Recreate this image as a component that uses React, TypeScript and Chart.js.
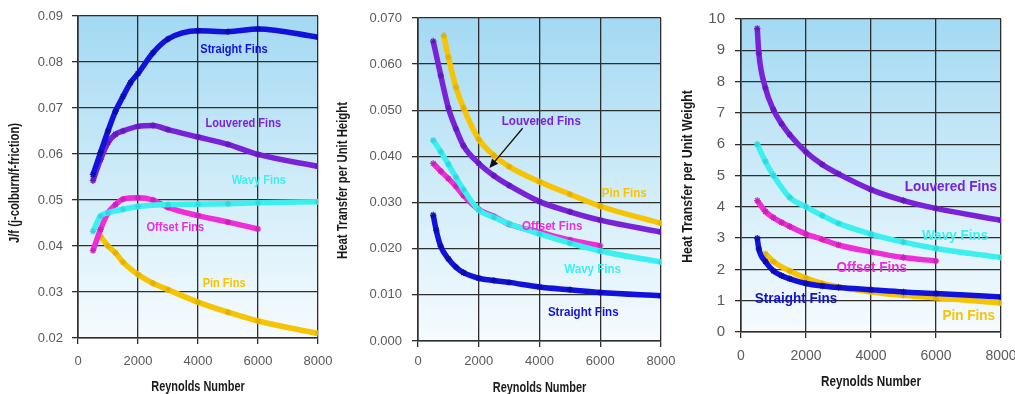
import React, { useEffect, useRef } from 'react';
import { Chart, registerables } from 'chart.js';

Chart.register(...registerables);

// ---- j/f ratio vs Reynolds number ----
const jfStraightRe = [500, 750, 1000, 1250, 1500, 1750, 2000, 2500, 3000, 4000, 5000, 6000, 8000];
const jfStraight = [0.0555, 0.0603, 0.065, 0.0693, 0.0725, 0.0755, 0.0775, 0.082, 0.085, 0.0868, 0.0866, 0.0872, 0.0854];
const jfLouveredRe = [500, 750, 1000, 1250, 1500, 2000, 2500, 3000, 4000, 5000, 6000, 8000];
const jfLouvered = [0.0542, 0.0588, 0.0625, 0.0643, 0.065, 0.066, 0.0662, 0.0653, 0.0637, 0.0621, 0.0599, 0.0573];
const jfWavyRe = [500, 750, 1000, 1500, 2000, 3000, 4000, 5000, 6000, 8000];
const jfWavy = [0.0432, 0.0465, 0.0472, 0.048, 0.0486, 0.049, 0.0491, 0.0492, 0.0494, 0.0496];
const jfOffsetRe = [500, 750, 1000, 1250, 1500, 2000, 2500, 3000, 4000, 5000, 6000];
const jfOffset = [0.039, 0.0436, 0.0472, 0.049, 0.0502, 0.0505, 0.05, 0.0484, 0.0466, 0.0452, 0.0437];
const jfPinRe = [750, 1000, 1250, 1500, 2000, 2500, 3000, 4000, 5000, 6000, 8000];
const jfPin = [0.0421, 0.04, 0.0385, 0.0365, 0.0338, 0.0319, 0.0305, 0.0278, 0.0256, 0.0237, 0.021];

// ---- heat transfer per unit height ----
const htStraightRe = [500, 600, 750, 1000, 1250, 1500, 2000, 2500, 3000, 4000, 5000, 6000, 8000];
const htStraight = [0.0273, 0.024, 0.0205, 0.0178, 0.016, 0.0148, 0.0136, 0.0131, 0.0127, 0.0117, 0.0111, 0.0105, 0.0098];
const htLouveredRe = [500, 750, 1000, 1250, 1500, 2000, 2500, 3000, 4000, 5000, 6000, 8000];
const htLouvered = [0.065, 0.0575, 0.0505, 0.046, 0.0423, 0.0385, 0.0358, 0.0337, 0.0302, 0.028, 0.0262, 0.0236];
const htWavyRe = [500, 750, 1000, 1250, 1500, 2000, 2500, 3000, 4000, 5000, 6000, 8000];
const htWavy = [0.0435, 0.041, 0.0383, 0.0355, 0.0328, 0.0284, 0.0268, 0.0254, 0.0232, 0.0212, 0.0195, 0.0171];
const htOffsetRe = [500, 750, 1000, 1250, 1500, 2000, 2500, 3000, 4000, 5000, 6000];
const htOffset = [0.0385, 0.0368, 0.0352, 0.0335, 0.0315, 0.0285, 0.027, 0.0253, 0.0236, 0.0219, 0.0206];
const htPinRe = [850, 1000, 1250, 1500, 2000, 2500, 3000, 4000, 5000, 6000, 8000];
const htPin = [0.0662, 0.0615, 0.055, 0.0505, 0.0437, 0.0402, 0.0378, 0.0345, 0.0318, 0.0292, 0.0255];

// ---- heat transfer per unit weight ----
const hwStraightRe = [500, 550, 750, 1000, 1250, 1500, 2000, 2500, 3000, 4000, 5000, 6000, 8000];
const hwStraight = [3.0, 2.65, 2.25, 1.95, 1.8, 1.7, 1.55, 1.47, 1.42, 1.35, 1.28, 1.23, 1.12];
const hwLouveredRe = [500, 550, 750, 1000, 1250, 1500, 2000, 2500, 3000, 4000, 5000, 6000, 8000];
const hwLouvered = [9.7, 8.9, 7.8, 7.1, 6.65, 6.3, 5.75, 5.35, 5.05, 4.55, 4.2, 3.95, 3.57];
const hwWavyRe = [500, 750, 1000, 1500, 2000, 2500, 3000, 4000, 5000, 6000, 8000];
const hwWavy = [6.0, 5.45, 5.0, 4.3, 4.0, 3.72, 3.47, 3.13, 2.87, 2.67, 2.38];
const hwOffsetRe = [500, 750, 1000, 1250, 1500, 2000, 2500, 3000, 4000, 5000, 6000];
const hwOffset = [4.2, 3.85, 3.65, 3.5, 3.37, 3.13, 2.96, 2.78, 2.56, 2.38, 2.27];
const hwPinRe = [750, 1000, 1500, 2000, 2500, 3000, 4000, 5000, 6000, 8000];
const hwPin = [2.5, 2.25, 1.95, 1.72, 1.55, 1.44, 1.28, 1.17, 1.09, 0.93];

const finNames = ['Straight Fins', 'Louvered Fins', 'Wavy Fins', 'Offset Fins', 'Pin Fins'];
const xAxisTitle = 'Reynolds Number';
const yAxisTitles = ['J/f (j-colburn/f-friction)', 'Heat Transfer per Unit Height', 'Heat Transfer per Unit Weight'];
const reynoldsMax = 8000;
const reynoldsStep = 2000;

const COLORS: Record<string, string> = {
  'Straight Fins': '#1212dc',
  'Louvered Fins': '#7a22d8',
  'Wavy Fins': '#3cf0f0',
  'Offset Fins': '#ee2ed6',
  'Pin Fins': '#f6c400',
};
const MARKERS: Record<string, string> = {
  'Straight Fins': '#0c0ca8',
  'Louvered Fins': '#6418b8',
  'Wavy Fins': '#2fd6e0',
  'Offset Fins': '#c820b8',
  'Pin Fins': '#e2b000',
};

const SANS = "'Liberation Sans', Arial, sans-serif";
const GRID = '#2e2e2e';
const TICK_TEXT = '#5a5a5a';
const TITLE_TEXT = '#1a1a1a';

type Label = { text: string; x: number; y: number; size: number };
type Arrow = { x1: number; y1: number; x2: number; y2: number };

type PanelSpec = {
  left: number;
  width: number;
  yWidth: number;
  padRight: number;
  padTop: number;
  xHeight: number;
  yMin: number;
  yMax: number;
  yStep: number;
  yDecimals: number;
  yTickSize: number;
  xTickSize: number;
  yTickPad: number;
  xTickPad: number;
  yTitle: string;
  titleSize: number;
  xTitleStretch: number;
  yTitleStretch: number;
  yTitleX: number;
  yTitleShift: number;
  xTitleY: number;
  labelStretch: number;
  series: [string, number[], number[]][];
  labels: Label[];
  arrows: Arrow[];
};

// Bold text squeezed horizontally, as a condensed face
function narrowText(ctx: CanvasRenderingContext2D, text: string, x: number, y: number, size: number, stretch: number, color: string, rotate = 0) {
  ctx.save();
  ctx.translate(x, y);
  if (rotate) ctx.rotate(rotate);
  ctx.scale(stretch, 1);
  ctx.font = `bold ${size}px ${SANS}`;
  ctx.fillStyle = color;
  ctx.textAlign = 'center';
  ctx.textBaseline = 'middle';
  ctx.fillText(text, 0, 0);
  ctx.restore();
}

// Plot-area gradient, axis titles, in-chart series captions and pointer arrows
const panelDecor = {
  id: 'panelDecor',
  beforeDraw(chart: any) {
    const { ctx, chartArea: a } = chart;
    const g = ctx.createLinearGradient(0, a.top, 0, a.bottom);
    g.addColorStop(0, '#a3d9f3');
    g.addColorStop(0.55, '#d2edf9');
    g.addColorStop(1, '#f6fbfe');
    ctx.save();
    ctx.fillStyle = g;
    ctx.fillRect(a.left, a.top, a.right - a.left, a.bottom - a.top);
    ctx.restore();
  },
  afterDatasetsDraw(chart: any, _args: any, opts: any) {
    const { ctx, scales, chartArea: a } = chart;
    const xs = scales.x;
    const ys = scales.y;
    const spec: PanelSpec = opts.spec;

    narrowText(ctx, xAxisTitle, (a.left + a.right) / 2, spec.xTitleY, spec.titleSize, spec.xTitleStretch, TITLE_TEXT);
    narrowText(ctx, spec.yTitle, spec.yTitleX, (a.top + a.bottom) / 2 + spec.yTitleShift, spec.titleSize, spec.yTitleStretch, TITLE_TEXT, -Math.PI / 2);

    ctx.save();
    spec.arrows.forEach((ar) => {
      const x1 = xs.getPixelForValue(ar.x1);
      const y1 = ys.getPixelForValue(ar.y1);
      const x2 = xs.getPixelForValue(ar.x2);
      const y2 = ys.getPixelForValue(ar.y2);
      const ang = Math.atan2(y2 - y1, x2 - x1);
      ctx.strokeStyle = '#111';
      ctx.fillStyle = '#111';
      ctx.lineWidth = 1.3;
      ctx.beginPath();
      ctx.moveTo(x1, y1);
      ctx.lineTo(x2 - 6 * Math.cos(ang), y2 - 6 * Math.sin(ang));
      ctx.stroke();
      ctx.beginPath();
      ctx.moveTo(x2, y2);
      ctx.lineTo(x2 - 9 * Math.cos(ang) + 4 * Math.sin(ang), y2 - 9 * Math.sin(ang) - 4 * Math.cos(ang));
      ctx.lineTo(x2 - 9 * Math.cos(ang) - 4 * Math.sin(ang), y2 - 9 * Math.sin(ang) + 4 * Math.cos(ang));
      ctx.closePath();
      ctx.fill();
    });
    ctx.restore();

    spec.labels.forEach((l) => {
      narrowText(ctx, l.text, xs.getPixelForValue(l.x), ys.getPixelForValue(l.y), l.size, spec.labelStretch, COLORS[l.text]);
    });
  },
};

const panels: PanelSpec[] = [
  {
    left: 0, width: 345, yWidth: 78, padRight: 27, padTop: 16, xHeight: 56,
    yMin: 0.02, yMax: 0.09, yStep: 0.01, yDecimals: 2, yTickSize: 13, xTickSize: 13,
    yTickPad: 9, xTickPad: 10,
    yTitle: yAxisTitles[0], titleSize: 14, xTitleStretch: 0.78, yTitleStretch: 0.8,
    yTitleX: 15, yTitleShift: 6, xTitleY: 387,
    labelStretch: 0.92,
    series: [
      [finNames[0], jfStraightRe, jfStraight],
      [finNames[1], jfLouveredRe, jfLouvered],
      [finNames[2], jfWavyRe, jfWavy],
      [finNames[3], jfOffsetRe, jfOffset],
      [finNames[4], jfPinRe, jfPin],
    ],
    labels: [
      { text: finNames[0], x: 5200, y: 0.0826, size: 12 },
      { text: finNames[1], x: 5510, y: 0.0666, size: 12 },
      { text: finNames[2], x: 6030, y: 0.0542, size: 12 },
      { text: finNames[3], x: 3245, y: 0.044, size: 12 },
      { text: finNames[4], x: 4870, y: 0.0318, size: 12 },
    ],
    arrows: [],
  },
  {
    left: 330, width: 360, yWidth: 88, padRight: 29, padTop: 18, xHeight: 53,
    yMin: 0, yMax: 0.07, yStep: 0.01, yDecimals: 3, yTickSize: 13, xTickSize: 13,
    yTickPad: 10, xTickPad: 7,
    yTitle: yAxisTitles[1], titleSize: 14, xTitleStretch: 0.78, yTitleStretch: 0.81,
    yTitleX: 13.3, yTitleShift: 1, xTitleY: 388,
    labelStretch: 0.89,
    series: [
      [finNames[4], htPinRe, htPin],
      [finNames[1], htLouveredRe, htLouvered],
      [finNames[2], htWavyRe, htWavy],
      [finNames[3], htOffsetRe, htOffset],
      [finNames[0], htStraightRe, htStraight],
    ],
    labels: [
      { text: finNames[1], x: 4060, y: 0.0476, size: 13 },
      { text: finNames[4], x: 6790, y: 0.0319, size: 13 },
      { text: finNames[3], x: 4420, y: 0.0248, size: 13 },
      { text: finNames[2], x: 5750, y: 0.0156, size: 13 },
      { text: finNames[0], x: 5440, y: 0.0061, size: 13 },
    ],
    arrows: [{ x1: 3444, y1: 0.0461, x2: 2349, y2: 0.0375 }],
  },
  {
    left: 675, width: 340, yWidth: 66, padRight: 14, padTop: 19, xHeight: 62,
    yMin: 0, yMax: 10, yStep: 1, yDecimals: 0, yTickSize: 15, xTickSize: 14,
    yTickPad: 10, xTickPad: 10,
    yTitle: yAxisTitles[2], titleSize: 15, xTitleStretch: 0.78, yTitleStretch: 0.82,
    yTitleX: 13.3, yTitleShift: 1, xTitleY: 381.7,
    labelStretch: 0.9,
    series: [
      [finNames[1], hwLouveredRe, hwLouvered],
      [finNames[2], hwWavyRe, hwWavy],
      [finNames[3], hwOffsetRe, hwOffset],
      [finNames[0], hwStraightRe, hwStraight],
      [finNames[4], hwPinRe, hwPin],
    ],
    labels: [
      { text: finNames[1], x: 6460, y: 4.64, size: 15 },
      { text: finNames[2], x: 6585, y: 3.06, size: 15 },
      { text: finNames[3], x: 4020, y: 2.05, size: 15 },
      { text: finNames[0], x: 1690, y: 1.05, size: 15 },
      { text: finNames[4], x: 7010, y: 0.53, size: 15 },
    ],
    arrows: [],
  },
];

function Panel({ spec }: { spec: PanelSpec }) {
  const ref = useRef<HTMLCanvasElement>(null);

  useEffect(() => {
    if (!ref.current) return;
    const datasets = spec.series.map(([name, re, vals]) => ({
      label: name,
      data: re.map((x, i) => ({ x, y: vals[i] })),
      borderColor: COLORS[name],
      backgroundColor: MARKERS[name],
      borderWidth: 5.5,
      cubicInterpolationMode: 'monotone' as const,
      pointStyle: 'star' as const,
      pointRadius: 3.2,
      pointBorderWidth: 1.2,
      pointBorderColor: MARKERS[name],
      fill: false,
    }));

    const gridOpts = { color: GRID, lineWidth: 1.3, tickLength: 6, tickColor: GRID, tickWidth: 1.3 };

    const chart = new Chart(ref.current, {
      type: 'line',
      data: { datasets },
      options: {
        responsive: false,
        animation: false,
        devicePixelRatio: 1,
        layout: { padding: { left: 0, right: spec.padRight, top: spec.padTop, bottom: 0 } },
        plugins: {
          legend: { display: false },
          tooltip: { enabled: false },
          panelDecor: { spec },
        } as any,
        scales: {
          x: {
            type: 'linear',
            min: 0,
            max: reynoldsMax,
            afterFit: (s: any) => {
              s.height = spec.xHeight;
              s.paddingLeft = 0;
              s.paddingRight = 0;
            },
            ticks: {
              stepSize: reynoldsStep,
              maxRotation: 0,
              padding: spec.xTickPad,
              color: TICK_TEXT,
              font: { family: SANS, size: spec.xTickSize },
              callback: (v: any) => String(Math.round(Number(v))),
            },
            grid: gridOpts,
            border: { color: GRID, width: 1.6 },
          },
          y: {
            min: spec.yMin,
            max: spec.yMax,
            afterFit: (s: any) => {
              s.width = spec.yWidth;
              s.paddingTop = 0;
              s.paddingBottom = 0;
            },
            ticks: {
              stepSize: spec.yStep,
              padding: spec.yTickPad,
              color: TICK_TEXT,
              font: { family: SANS, size: spec.yTickSize },
              callback: (v: any) => Number(v).toFixed(spec.yDecimals),
            },
            grid: gridOpts,
            border: { color: GRID, width: 1.6 },
          },
        },
      },
      plugins: [panelDecor],
    });
    return () => chart.destroy();
  }, [spec]);

  return (
    <canvas
      ref={ref}
      width={spec.width}
      height={394}
      style={{ position: 'absolute', left: spec.left, top: 0, width: spec.width, height: 394 }}
    />
  );
}

export default function App() {
  return (
    <div style={{ position: 'absolute', left: 0, top: 0, width: 1015, height: 394, background: '#ffffff', overflow: 'hidden' }}>
      {panels.map((p, i) => (
        <Panel key={i} spec={p} />
      ))}
    </div>
  );
}
